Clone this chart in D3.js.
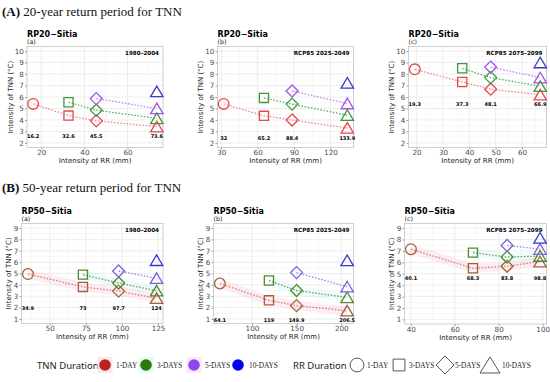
<!DOCTYPE html>
<html>
<head>
<meta charset="utf-8">
<script src="https://cdn.jsdelivr.net/npm/d3@7/dist/d3.min.js"></script>
<style>
  body { margin: 0; background: #fff; }
  svg { display: block; }
</style>
</head>
<body>
<script>
// Duration levels: RR duration -> marker shape, TNN duration -> colour
var rrDurations = ["1-DAY", "3-DAYS", "5-DAYS", "10-DAYS"];
var tnnDurations = ["1-DAY", "3-DAYS", "5-DAYS", "10-DAYS"];

// Intensity of RR (mm), one value per RR duration
var rp20HistRR = [16.2, 32.6, 45.5, 73.6];
var rp20MidRR  = [32, 65.2, 88.4, 133.9];
var rp20EndRR  = [19.3, 37.3, 48.1, 66.9];
var rp50HistRR = [34.9, 73, 97.7, 124];
var rp50MidRR  = [64.1, 119, 149.9, 206.5];
var rp50EndRR  = [40.1, 68.3, 83.8, 98.8];

// Intensity of TNN (degC): rows = TNN duration, cols = RR duration
var rp20HistTNN = [[5.4, 4.38, 3.92, 3.42], [null, 5.54, 4.85, 4.14], [null, null, 5.86, 5.0], [null, null, null, 6.48]];
var rp20MidTNN  = [[5.4, 4.36, 3.99, 3.3], [null, 5.92, 5.38, 4.42], [null, null, 6.53, 5.43], [null, null, null, 7.23]];
var rp20EndTNN  = [[8.41, 7.31, 6.68, 6.2], [null, 8.5, 7.69, 6.94], [null, null, 8.61, 7.69], [null, null, null, 9.0]];
var rp50HistTNN = [[4.95, 3.82, 3.45, 2.82], [null, 4.9, 4.16, 3.48], [null, null, 5.22, 4.58], [null, null, null, 6.16]];
var rp50MidTNN  = [[4.12, 2.64, 2.17, 1.72], [null, 4.38, 3.5, 2.9], [null, null, 5.08, 3.84], [null, null, null, 6.15]];
var rp50EndTNN  = [[7.15, 5.48, 5.66, 6.06], [null, 6.85, 6.46, 6.55], [null, null, 7.48, 7.16], [null, null, null, 8.14]];

// Tick labels
var rp20Ticks = [2, 3, 4, 5, 6, 7, 8, 9, 10];
var rp50Ticks = [1, 2, 3, 4, 5, 6, 7, 8, 9];
var rp20HistX = [20, 40, 60];
var rp20MidX  = [30, 60, 90, 120];
var rp20EndX  = [20, 30, 40, 50, 60];
var rp50HistX = [50, 75, 100, 125];
var rp50MidX  = [100, 150, 200];
var rp50EndX  = [40, 60, 80, 100];

var periods = ["1980\u20132004", "RCP85 2025-2049", "RCP85 2075\u20132099"];
var headings = ["20-year return period for TNN", "50-year return period for TNN"];

var W = 550, H = 382;
var svg = d3.select("body").append("svg").attr("width", W).attr("height", H)
  .style("font-family", "'DejaVu Sans', sans-serif");

// colours per row (20-year / 50-year)
var markCol = [
  ["#e8474f", "#3a9a3a", "#a255e6", "#3a3ac8"],
  ["#a5603a", "#4e8a2e", "#7a62e0", "#3535d6"]
];
var lineCol = [
  ["#f08a8f", "#5fb35f", "#c08ae8", "#6b6bd8"],
  ["#c98a78", "#6fa35a", "#9a88e6", "#6b6bd8"]
];

var panels = [
  {row: 0, tag: "(a)", period: 0, rr: rp20HistRR, tnn: rp20HistTNN, xt: rp20HistX, yt: rp20Ticks, box: [27, 46.5, 163, 147.5]},
  {row: 0, tag: "(b)", period: 1, rr: rp20MidRR,  tnn: rp20MidTNN,  xt: rp20MidX,  yt: rp20Ticks, box: [217.5, 46.5, 353.5, 147.5]},
  {row: 0, tag: "(c)", period: 2, rr: rp20EndRR,  tnn: rp20EndTNN,  xt: rp20EndX,  yt: rp20Ticks, box: [408.5, 46.5, 546.5, 147.5]},
  {row: 1, tag: "(a)", period: 0, rr: rp50HistRR, tnn: rp50HistTNN, xt: rp50HistX, yt: rp50Ticks, box: [21.5, 223.5, 163, 323.5]},
  {row: 1, tag: "(b)", period: 1, rr: rp50MidRR,  tnn: rp50MidTNN,  xt: rp50MidX,  yt: rp50Ticks, box: [213.5, 223.5, 353.5, 323.5]},
  {row: 1, tag: "(c)", period: 2, rr: rp50EndRR,  tnn: rp50EndTNN,  xt: rp50EndX,  yt: rp50Ticks, box: [404.5, 223.5, 546.5, 324]}
];

function expand(ext){
  var d = (ext[1] - ext[0]) * 0.05;
  return [ext[0] - d, ext[1] + d];
}

function minors(ticks, dom){
  var step = ticks[1] - ticks[0], out = [];
  for (var v = ticks[0] - step / 2; v <= dom[1]; v += step) if (v >= dom[0]) out.push(v);
  return out;
}

// marker shape per RR duration, centred on its box
function shapePath(k){
  if (k == 0) return d3.symbol(d3.symbolCircle, 90)();
  if (k == 1) return d3.symbol(d3.symbolSquare, 84)();
  if (k == 2) return "M0,-6L6,0L0,6L-6,0Z";
  return "M0,-5.4L6.2,5.2L-6.2,5.2Z";
}

// section headings
[0, 1].forEach(function(r){
  var t = svg.append("text").attr("x", 2).attr("y", r == 0 ? 16 : 192)
    .style("font-family", "'Liberation Serif', serif").style("font-size", "13px").attr("fill", "#111");
  t.append("tspan").style("font-weight", "bold").text("(" + (r == 0 ? "A" : "B") + ") ");
  t.append("tspan").text(headings[r]);
});

panels.forEach(function(p){
  var g = svg.append("g");
  var b = p.box;
  var xDom = expand(d3.extent(p.rr));
  var yDom = expand([p.yt[0], p.yt[p.yt.length - 1]]);
  var x = d3.scaleLinear().domain(xDom).range([b[0], b[2]]);
  var y = d3.scaleLinear().domain(yDom).range([b[3], b[1]]);

  // grid
  var grid = g.append("g");
  minors(p.xt, xDom).forEach(function(v){
    grid.append("line").attr("x1", x(v)).attr("x2", x(v)).attr("y1", b[1]).attr("y2", b[3]).attr("stroke", "#f3f3f3").attr("stroke-width", 0.6);
  });
  minors(p.yt, yDom).forEach(function(v){
    grid.append("line").attr("y1", y(v)).attr("y2", y(v)).attr("x1", b[0]).attr("x2", b[2]).attr("stroke", "#f3f3f3").attr("stroke-width", 0.6);
  });
  p.xt.forEach(function(v){
    grid.append("line").attr("x1", x(v)).attr("x2", x(v)).attr("y1", b[1]).attr("y2", b[3]).attr("stroke", "#e8e8e8").attr("stroke-width", 0.8);
  });
  p.yt.forEach(function(v){
    grid.append("line").attr("y1", y(v)).attr("y2", y(v)).attr("x1", b[0]).attr("x2", b[2]).attr("stroke", "#e8e8e8").attr("stroke-width", 0.8);
  });

  // axes
  var ax = g.append("g").attr("transform", "translate(0," + b[3] + ")")
    .call(d3.axisBottom(x).tickValues(p.xt).tickSize(2).tickPadding(0.6));
  var ay = g.append("g").attr("transform", "translate(" + b[0] + ",0)")
    .call(d3.axisLeft(y).tickValues(p.yt).tickSize(2).tickPadding(1.2));
  [ax, ay].forEach(function(a){
    a.select(".domain").remove();
    a.selectAll(".tick line").attr("stroke", "#555").attr("stroke-width", 0.6);
    a.selectAll("text").attr("fill", "#4d4d4d").style("font-size", "7.2px").style("font-family", "'DejaVu Sans', sans-serif");
  });

  g.append("rect").attr("x", b[0]).attr("y", b[1]).attr("width", b[2] - b[0]).attr("height", b[3] - b[1])
    .attr("fill", "none").attr("stroke", "#c4c4c4").attr("stroke-width", 0.8);

  // titles
  g.append("text").attr("x", b[0]).attr("y", b[1] - 10).style("font-size", "8px").style("font-weight", "bold")
    .text((p.row == 0 ? "RP20" : "RP50") + "\u2212Sitia");
  g.append("text").attr("x", b[0]).attr("y", b[1] - 3).style("font-size", "6.3px").attr("fill", "#222").text(p.tag);
  g.append("text").attr("x", b[2] - 4).attr("y", b[1] + 8).attr("text-anchor", "end")
    .style("font-size", "5.6px").style("font-weight", "bold").text(periods[p.period]);
  g.append("text").attr("x", (b[0] + b[2]) / 2).attr("y", b[3] + 15.5).attr("text-anchor", "middle")
    .style("font-size", "7px").attr("fill", "#222").text("Intensity of RR (mm)");
  var yOff = p.row == 0 ? 14.5 : 11;
  g.append("text").attr("transform", "translate(" + (b[0] - yOff) + "," + ((b[1] + b[3]) / 2) + ") rotate(-90)")
    .attr("text-anchor", "middle").style("font-size", "7px").attr("fill", "#222").text("Intensity of TNN (\u00b0C)");

  // series
  p.tnn.forEach(function(vals, s){
    var pts = [];
    vals.forEach(function(v, k){ if (v != null) pts.push({k: k, x: p.rr[k], y: v}); });
    var line = d3.line().x(function(d){ return x(d.x); }).y(function(d){ return y(d.y); });
    if (pts.length > 1){
      if (p.row == 1 && s < 2){
        g.append("path").attr("d", line(pts)).attr("fill", "none")
          .attr("stroke", s == 0 ? "#ffa6c9" : "#a8f0ea").attr("stroke-opacity", s == 0 ? 0.2 : 0.18)
          .attr("stroke-width", 9).attr("stroke-linejoin", "round");
      }
      g.append("path").attr("d", line(pts)).attr("fill", "none").attr("stroke", lineCol[p.row][s])
        .attr("stroke-width", 1.3).attr("stroke-dasharray", "1.6,1.6");
    }
    pts.forEach(function(d){
      g.append("path").attr("d", shapePath(d.k))
        .attr("transform", "translate(" + x(d.x) + "," + y(d.y) + ")")
        .attr("fill", "none").attr("stroke", markCol[p.row][s]).attr("stroke-width", 1.3);
    });
  });

  // RR value labels under the points
  var lo = d3.min(p.tnn, function(r){ return d3.min(r.filter(function(v){ return v != null; })); });
  p.rr.forEach(function(v){
    g.append("text").attr("x", x(v)).attr("y", y(lo - 0.85) + 2).attr("text-anchor", "middle")
      .style("font-size", "5px").style("font-weight", "bold").text(v);
  });
});

// legends
var legY = 365;
var leg = svg.append("g");
leg.append("text").attr("x", 37).attr("y", legY + 3.5).style("font-size", "9.5px").style("font-family", "'Noto Sans', sans-serif")
  .attr("fill", "#222").text("TNN Duration");
var tnnLegCol = ["#b5261e", "#2b7a0b", "#8a4af0", "#0000f0"];
var tnnBg = ["#ffe3ee", "#e3faf7", "#fbe9f4", null];
var tnnLegX = [105, 146, 194, 238];
tnnDurations.forEach(function(d, i){
  if (tnnBg[i]) leg.append("rect").attr("x", tnnLegX[i] - 7.5).attr("y", legY - 8).attr("width", 15).attr("height", 16).attr("fill", tnnBg[i]);
  leg.append("circle").attr("cx", tnnLegX[i]).attr("cy", legY).attr("r", 5.8).attr("fill", tnnLegCol[i]);
  leg.append("text").attr("x", tnnLegX[i] + 11).attr("y", legY + 3).style("font-size", "7.3px")
    .style("font-family", "'Liberation Serif', serif").attr("fill", "#222").text(d);
});

leg.append("text").attr("x", 293).attr("y", legY + 3.5).style("font-size", "9.5px").style("font-family", "'Noto Sans', sans-serif")
  .attr("fill", "#222").text("RR Duration");
var rrLegX = [357, 399, 445, 490];
var rrLegShape = [
  d3.symbol(d3.symbolCircle, 150)(),
  d3.symbol(d3.symbolSquare, 140)(),
  "M0,-9L9,0L0,9L-9,0Z",
  "M0,-8L10,8L-10,8Z"
];
rrDurations.forEach(function(d, i){
  leg.append("path").attr("d", rrLegShape[i]).attr("transform", "translate(" + rrLegX[i] + "," + legY + ")")
    .attr("fill", "none").attr("stroke", "#444").attr("stroke-width", 0.9);
  leg.append("text").attr("x", rrLegX[i] + (i == 3 ? 12 : 10)).attr("y", legY + 3).style("font-size", "7.3px")
    .style("font-family", "'Liberation Serif', serif").attr("fill", "#222").text(d);
});
</script>
</body>
</html>
